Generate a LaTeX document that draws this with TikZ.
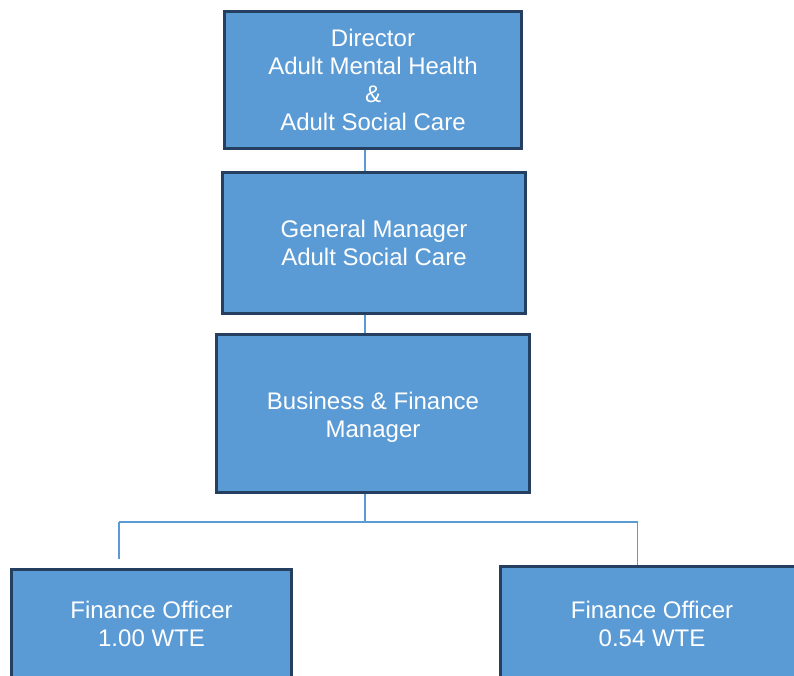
\documentclass[tikz,border=0pt]{standalone}
\usepackage{fontspec}
\setmainfont{Liberation Sans}
\definecolor{boxfill}{RGB}{91,155,213}
\definecolor{boxedge}{RGB}{36,63,96}
\definecolor{linkblue}{RGB}{91,155,213}
\begin{document}
\begin{tikzpicture}[x=1pt,y=-1pt,
  orgbox/.style={draw=boxedge,line width=3pt,fill=boxfill,text=white,
    align=center,inner sep=0pt,font=\fontsize{24}{28}\selectfont},
  orgtext/.style={text=white,align=center,inner sep=0pt,
    font=\fontsize{24}{28}\selectfont},
  link/.style={draw=linkblue,line width=1.5pt}]
  \useasboundingbox (0,0) rectangle (794,675);
  \clip (0,0) rectangle (794,675);

  % management chain
  \node[orgbox,minimum width=297pt,minimum height=137pt] (dir) at (373,80)
    {Director\\Adult Mental Health\\\&\\Adult Social Care};
  \node[orgbox,minimum width=303pt,minimum height=141pt] (gm) at (374,243)
    {General Manager\\Adult Social Care};
  \node[orgbox,minimum width=313pt,minimum height=158pt] (bfm) at (373,413.5) {};
  \node[orgtext,yshift=-4pt] (bfmtext) at (bfm.center)
    {Business \& Finance\\Manager};

  % finance officers
  \node[orgbox,minimum width=280pt,minimum height=108pt] (fo1) at (151.5,623.5)
    {Finance Officer\\1.00 WTE};
  \node[orgbox,minimum width=303pt,minimum height=114pt] (fo2) at (652,623.5)
    {Finance Officer\\0.54 WTE};

  % connector geometry
  \coordinate (spine) at (365,522);
  \coordinate (busL) at (119,522);
  \coordinate (busR) at (637.5,522);
  \coordinate (dropL) at (119,559);

  \draw[link] (dir.south -| spine) -- (gm.north -| spine);
  \draw[link] (gm.south -| spine) -- (bfm.north -| spine);
  \draw[link] (bfm.south -| spine) -- (spine);
  \draw[link] (busL) -- (busR);
  \draw[link] (busL) -- (dropL);
  \draw[link] (busR) -- (fo2.north -| busR);
\end{tikzpicture}
\end{document}
